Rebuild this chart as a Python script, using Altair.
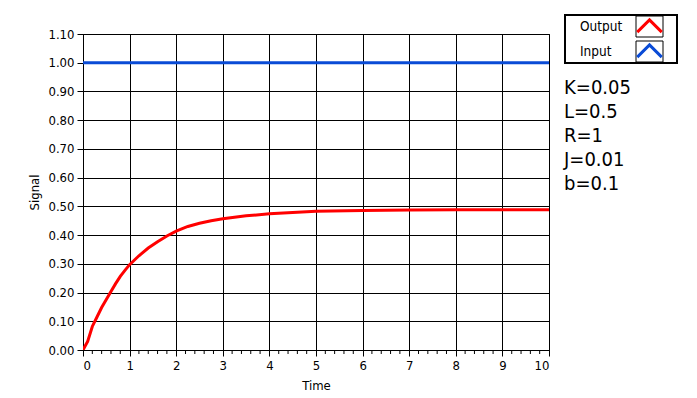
import altair as alt
import pandas as pd

# ---- data ----
time_out = [0, 0.1, 0.2, 0.3, 0.4, 0.5, 0.6, 0.7, 0.8, 0.9, 1.0, 1.2, 1.4, 1.6, 1.8,
            2.0, 2.25, 2.5, 2.75, 3.0, 3.5, 4.0, 4.5, 5.0, 6.0, 7.0, 8.0, 9.0, 10.0]
output_vals = [0, 0.03, 0.082, 0.115, 0.148, 0.176, 0.204, 0.231, 0.256, 0.277, 0.297,
               0.328, 0.355, 0.377, 0.397, 0.414, 0.430, 0.441, 0.450, 0.457, 0.467,
               0.474, 0.479, 0.483, 0.486, 0.487, 0.488, 0.488, 0.488]
time_in = [0, 10]
input_vals = [1.0, 1.0]
series_names = ["Output", "Input"]
series_colors = ["#ff0000", "#0a4bd6"]
x_ticks = list(range(0, 11))
x_minor = [round(i * 0.2, 1) for i in range(51) if i % 5 != 0]
y_ticks = [round(i * 0.1, 1) for i in range(12)]
params = ["K=0.05", "L=0.5", "R=1", "J=0.01", "b=0.1"]

FONT = "DejaVu Sans Condensed, DejaVu Sans"
W, H = 466, 316

df = pd.concat([
    pd.DataFrame({"t": time_out, "v": output_vals, "s": "Output"}),
    pd.DataFrame({"t": time_in, "v": input_vals, "s": "Input"}),
])

x_axis = alt.Axis(values=x_ticks, format="d", tickSize=6, labelPadding=3,
                  title="Time", titlePadding=7, grid=True)
y_axis = alt.Axis(values=y_ticks, format=".2f", tickSize=6, labelPadding=3,
                  title="Signal", titlePadding=6, grid=True)
x_scale = alt.Scale(domain=[0, 10], nice=False, zero=False)
y_scale = alt.Scale(domain=[0, 1.1], nice=False)

lines = alt.Chart(df).mark_line(strokeWidth=3, clip=True).encode(
    x=alt.X("t:Q", scale=x_scale, axis=x_axis),
    y=alt.Y("v:Q", scale=y_scale, axis=y_axis),
    color=alt.Color("s:N", scale=alt.Scale(domain=series_names, range=series_colors), legend=None),
    detail="s:N",
)

minor = alt.Chart(pd.DataFrame({"t": x_minor})).mark_rule(color="black", strokeWidth=1).encode(
    x=alt.X("t:Q", scale=x_scale, axis=x_axis),
    y=alt.value(H),
    y2=alt.value(H + 4),
)

one = pd.DataFrame({"a": [0]})

legend_box = alt.Chart(one).mark_rect(fill="white", stroke="black", strokeWidth=2).encode(
    x=alt.value(482), x2=alt.value(594), y=alt.value(-19), y2=alt.value(29))

sw1 = alt.Chart(one).mark_rect(fill="white", stroke="black", strokeWidth=1).encode(
    x=alt.value(553), x2=alt.value(580), y=alt.value(-18), y2=alt.value(3))
sw2 = alt.Chart(one).mark_rect(fill="white", stroke="black", strokeWidth=1).encode(
    x=alt.value(553), x2=alt.value(580), y=alt.value(7), y2=alt.value(28))

chev = "M-1,0.5L0,-0.5L1,0.5"
ch1 = alt.Chart(one).mark_point(shape=chev, filled=False, size=600, strokeWidth=3,
                                 color=series_colors[0], opacity=1).encode(
    x=alt.value(566.5), y=alt.value(-8))
ch2 = alt.Chart(one).mark_point(shape=chev, filled=False, size=600, strokeWidth=3,
                                 color=series_colors[1], opacity=1).encode(
    x=alt.value(566.5), y=alt.value(17))

lab1 = alt.Chart(one).mark_text(align="left", baseline="alphabetic", font=FONT, fontSize=13.5,
                                color="black").encode(
    x=alt.value(497), y=alt.value(-3), text=alt.value(series_names[0]))
lab2 = alt.Chart(one).mark_text(align="left", baseline="alphabetic", font=FONT, fontSize=13.5,
                                color="black").encode(
    x=alt.value(497), y=alt.value(22), text=alt.value(series_names[1]))

ptext = alt.Chart(one).mark_text(align="left", baseline="alphabetic", font=FONT, fontSize=20,
                                 lineBreak="\n", lineHeight=24, color="black").encode(
    x=alt.value(481), y=alt.value(60), text=alt.value("\n".join(params)))

chart = alt.layer(lines, minor, legend_box, sw1, sw2, ch1, ch2, lab1, lab2, ptext).properties(
    width=W, height=H,
    background="white",
    autosize=alt.AutoSizeParams(type="none"),
    padding={"left": 83, "top": 34, "right": 148, "bottom": 48},
).configure_view(
    stroke="black", strokeWidth=1
).configure_axis(
    gridColor="black", gridOpacity=1, gridWidth=1,
    domainColor="black", tickColor="black", domainWidth=1,
    labelFont=FONT, labelFontSize=13, labelColor="black",
    titleFont=FONT, titleFontSize=13, titleFontWeight="normal", titleColor="black",
)

chart.save("out.html", embed_options={"renderer": "svg", "actions": False})
